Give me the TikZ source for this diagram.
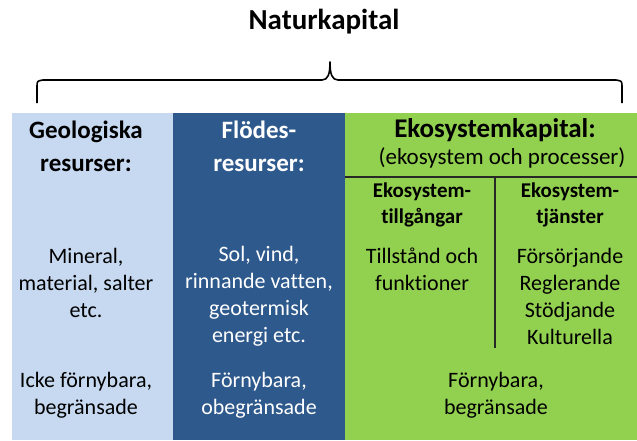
\documentclass[tikz,border=0pt]{standalone}
\usepackage{fontspec}
\setmainfont{Carlito}[Ligatures=NoCommon]
\definecolor{geoblue}{RGB}{198,217,240}
\definecolor{flowblue}{RGB}{46,89,140}
\definecolor{ecogreen}{RGB}{146,208,80}
\definecolor{linegray}{RGB}{40,40,40}
\begin{document}
\begin{tikzpicture}[x=1pt,y=-1pt,
  column/.style={draw=none,inner sep=0pt,minimum height=327pt,anchor=north west},
  head/.style={font=\fontsize{25}{33}\selectfont\bfseries,align=center},
  subhead/.style={font=\fontsize{21}{26}\selectfont\bfseries,align=center},
  body/.style={font=\fontsize{22}{27}\selectfont,align=center},
  divider/.style={draw=linegray,line width=1.3pt}]

  \useasboundingbox (0,0) rectangle (637,440);

  % columns
  \node[column,fill=geoblue,minimum width=161pt] (geo) at (12,113){};
  \node[column,fill=flowblue,minimum width=172pt] (flow) at (173,113){};
  \node[column,fill=ecogreen,minimum width=292pt] (eco) at (345,113){};

  % title and brace
  \node[font=\fontsize{29}{35}\selectfont\bfseries] (title) at (324,22) {Naturkapital};
  \draw[line width=1.6pt,line join=round]
    (37,103) -- (37,87) .. controls (37,81) .. (43,80) -- (322,80)
    .. controls (328,80) and (330,74) .. (330,62)
    .. controls (330,74) and (332,80) .. (338,80) -- (616,80)
    .. controls (622,81) .. (622,87) -- (622,103);

  % headings
  \node[head] (geo head) at (86,146) {Geologiska\\resurser:};
  \node[head,text=white] (flow head) at (259,146) {Flödes-\\resurser:};
  \node[head,font=\fontsize{27}{33}\selectfont\bfseries] (eco head) at (495,130) {Ekosystemkapital:};
  \node[body,font=\fontsize{23}{27}\selectfont] (eco sub) at (502,158) {(ekosystem och processer)};

  \coordinate (split w) at (345,177);
  \coordinate (split e) at (637,177);
  \coordinate (mid top) at (495,177);
  \coordinate (mid bot) at (495,348);
  \draw[divider] (split w) -- (split e);
  \draw[divider] (mid top) -- (mid bot);

  \node[subhead] (asset head) at (422,205) {Ekosystem-\\tillgångar};
  \node[subhead] (service head) at (570,205) {Ekosystem-\\tjänster};

  % contents
  \node[body] (geo body) at (86,283) {Mineral,\\material, salter\\etc.};
  \node[body,text=white] (flow body) at (259,296) {Sol, vind,\\rinnande vatten,\\geotermisk\\energi etc.};
  \node[body] (asset body) at (422,269) {Tillstånd och\\funktioner};
  \node[body] (service body) at (570,296) {Försörjande\\Reglerande\\Stödjande\\Kulturella};

  % bottom row
  \node[body] (geo foot) at (86,395) {Icke förnybara,\\begränsade};
  \node[body,text=white] (flow foot) at (259,395) {Förnybara,\\obegränsade};
  \node[body] (eco foot) at (496,395) {Förnybara,\\begränsade};
\end{tikzpicture}
\end{document}
